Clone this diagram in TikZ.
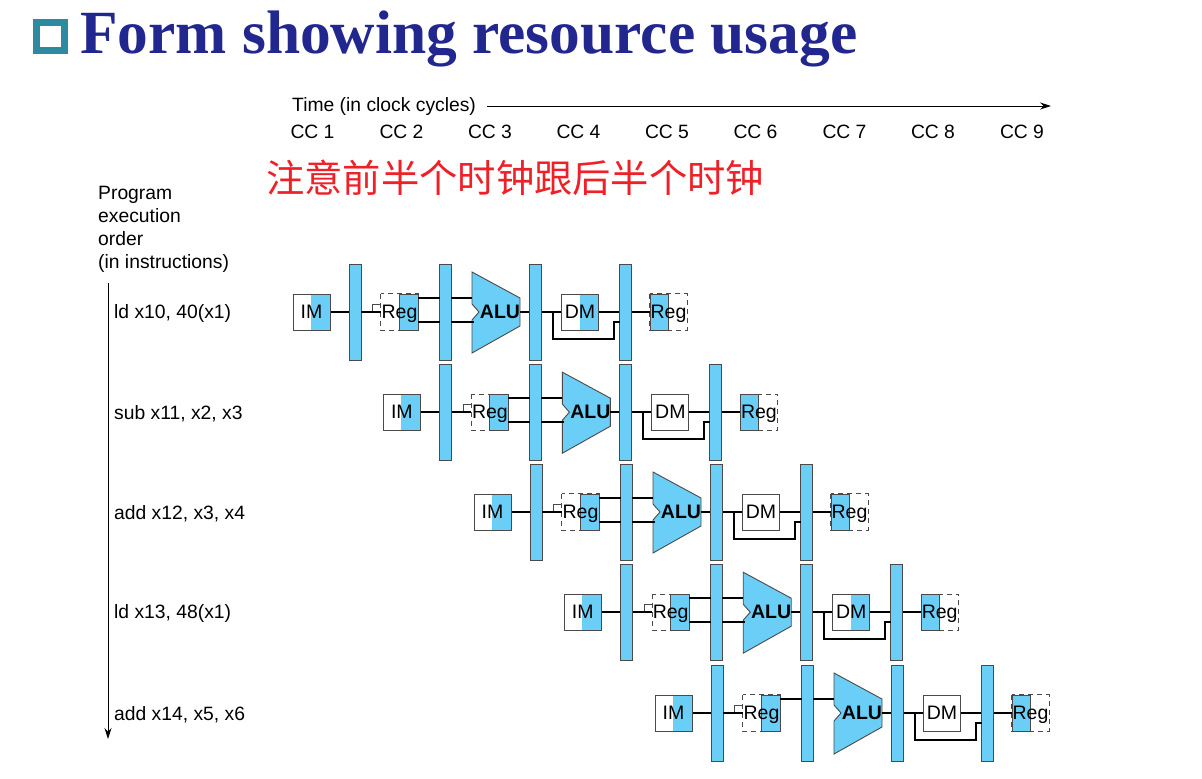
\documentclass[tikz,border=0pt]{standalone}
\usepackage{fontspec}
\setmainfont{Liberation Sans}
\newfontfamily\titlefont{Liberation Serif}
\newfontfamily\cjkfont{Noto Sans CJK SC}
\usetikzlibrary{arrows.meta}
\definecolor{pipeblue}{HTML}{6ACEF7}
\definecolor{edgegray}{HTML}{4A4A4A}
\definecolor{titleblue}{HTML}{22268F}
\definecolor{icon}{HTML}{2E8AA0}
\definecolor{redtext}{HTML}{EE2028}
\tikzset{
  lbl/.style={font=\fontsize{19.3}{23}\selectfont,inner sep=0pt,anchor=west,text=black,align=left},
  cc/.style={font=\fontsize{19.3}{23}\selectfont,inner sep=0pt,text=black},
  latch/.style={draw=edgegray,line width=0.9pt,fill=pipeblue,minimum width=12pt,minimum height=96pt,inner sep=0pt},
  unitbox/.style={draw=edgegray,line width=1pt,minimum width=37pt,minimum height=36pt,inner sep=0pt,font=\fontsize{19.5}{20}\selectfont},
  wire/.style={draw=black,line width=2.1pt},
  alupoly/.style={draw=edgegray,line width=0.9pt,fill=pipeblue,line join=miter},
  dash box/.style={draw=edgegray,line width=0.9pt,dash pattern=on 5pt off 4pt},
  halfblue/.style={fill=pipeblue,draw=edgegray,line width=1pt},
  regtext/.style={inner sep=0pt,anchor=base,font=\fontsize{19.5}{20}\selectfont},
  tiny port/.style={draw=edgegray,line width=0.8pt},
  arrowline/.style={draw=black,line width=0.9pt,-{Stealth[length=11pt,width=7pt]}}
}
\begin{document}
\begin{tikzpicture}[x=1pt,y=-1pt]
\useasboundingbox (0,0) rectangle (1202,779);
% title
\node[draw=icon,line width=7pt,minimum size=28pt,inner sep=0pt,fill=white] (icon) at (50.5,36.5) {};
\node[anchor=base west,inner sep=0pt,text=titleblue,font=\titlefont\bfseries\fontsize{61.4}{63}\selectfont] (title) at (80,53) {Form showing resource usage};
% time axis
\node[lbl] (timelbl) at (292,106.5) {Time (in clock cycles)};
\coordinate (timeend) at (1051,106);
\draw[arrowline] (487,106) -- (timeend);
\foreach \i/\xx in {1/312.5,2/401.5,3/490,4/578.5,5/667,6/755.5,7/844.5,8/933,9/1022}
  \node[cc] (cc\i) at (\xx,132) {CC \i};
\node[anchor=west,inner sep=0pt,text=redtext,font=\cjkfont\fontsize{38.3}{40}\selectfont] (note) at (266,178) {注意前半个时钟跟后半个时钟};
% order
\node[lbl] (order) at (98,229) {Program\\execution\\order\\(in instructions)};
\coordinate (ordertop) at (108,283);
\coordinate (orderend) at (108,739);
\draw[arrowline] (ordertop) -- (orderend);
% rows
\foreach \n/\dx/\dy/\ins/\dmfill/\two in {
  1/0/0/{ld x10, 40(x1)}/1/1,
  2/90.4/100.2/{sub x11, x2, x3}/0/1,
  3/181/200/{add x12, x3, x4}/0/1,
  4/271.2/300.2/{ld x13, 48(x1)}/1/1,
  5/362/401/{add x14, x5, x6}/0/0}{
\begin{scope}[shift={(\dx pt,-\dy pt)}]
  % instruction label (not shifted in x)
  \node[lbl] (ins\n) at ({114-\dx},313.5) {\ins};
  % IM
  \node[unitbox,fill=white] (imbg\n) at (311.5,312) {};
  \fill[pipeblue] (311,294.5) rectangle (329.5,329.5);
  \node[unitbox] (im\n) at (311.5,312) {IM};
  % latches
  \node[latch] (la\n) at (355,312) {};
  \node[latch] (lb\n) at (445.5,312) {};
  \node[latch] (lc\n) at (535.5,312) {};
  \node[latch] (ld\n) at (625.5,312) {};
  % Reg read
  \node[minimum width=37pt,minimum height=36pt,inner sep=0pt] (rr\n) at (399.5,312) {};
  \draw[dash box] (rr\n.north west) rectangle (rr\n.south east);
  \draw[halfblue] (399.5,294) rectangle (418,330);
  \node[regtext] at (399.5,318.5) {Reg};
  \draw[tiny port] (rr\n.west) ++(0,-8) -- ++(-8,0) -- ++(0,8);
  % ALU
  \draw[alupoly] (472,272) -- (520,298) -- (520,326) -- (472,353) -- (472,320) -- (479,312) -- (472,304) -- cycle;
  \node[inner sep=0pt,font=\bfseries\fontsize{19.5}{20}\selectfont] (alu\n) at (500,312) {ALU};
  % DM
  \node[unitbox,fill=white] (dmbg\n) at (580,312) {};
  \ifnum\dmfill=1 \fill[pipeblue] (580,294.5) rectangle (598,329.5); \fi
  \node[unitbox] (dm\n) at (580,312) {DM};
  % Reg write
  \node[minimum width=37pt,minimum height=36pt,inner sep=0pt] (rw\n) at (668.5,312) {};
  \draw[dash box] (rw\n.north west) rectangle (rw\n.south east);
  \draw[halfblue] (650,294) rectangle (668.5,330);
  \node[regtext] at (668.5,318.5) {Reg};
  % wires
  \draw[wire] (im\n) -- (la\n);
  \draw[wire] (la\n) -- (rr\n);
  \draw[wire] (418,298) -- (440,298);
  \draw[wire] (451,298) -- (472,298);
  \ifnum\two=1
    \draw[wire] (418,322) -- (440,322);
    \draw[wire] (451,322) -- (474,322);
  \fi
  \draw[wire] (520,312) -- (lc\n.west);
  \draw[wire] (lc\n.east) -- (dm\n.west);
  \draw[wire] (dm\n.east) -- (ld\n.west);
  \draw[wire] (ld\n.east) -- (rw\n.west);
  \coordinate (mb\n) at (553,312);
  \coordinate (mc\n) at (620,322);
  \draw[wire,line join=miter] (mb\n) -- (553,339) -- (614,339) -- (614,322) -- (mc\n);
\end{scope}
}
\end{tikzpicture}
\end{document}
